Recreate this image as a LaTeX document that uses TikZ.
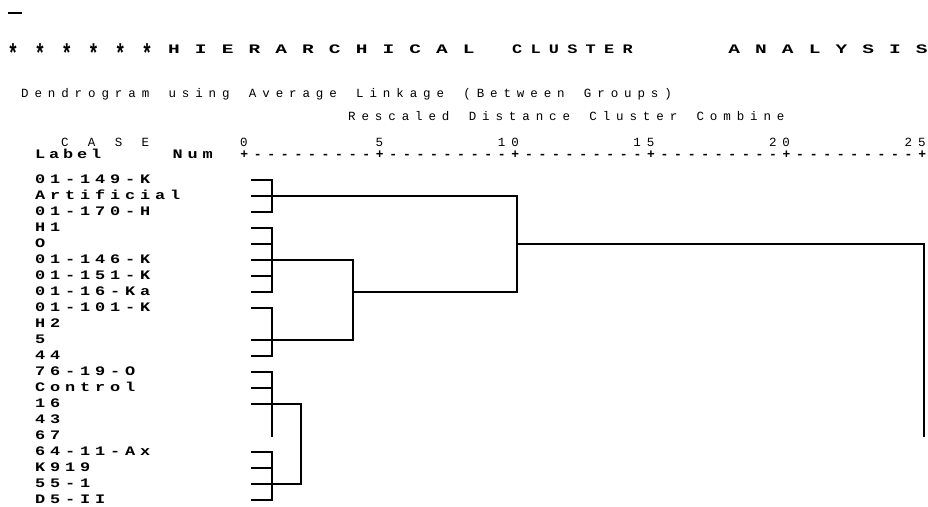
\documentclass[tikz,border=0pt]{standalone}
\usepackage{graphicx}
\usepackage{fontspec}
\setmainfont{Liberation Mono}
\ExplSyntaxOn
\NewDocumentCommand\mtext{O{1} m m}
  {
    \str_set:Nx \l_tmpa_str {#3}
    \str_map_inline:Nn \l_tmpa_str { \makebox[#2]{\scalebox{#1}[1]{##1}} }
  }
\ExplSyntaxOff
\tikzset{
  dline/.style={line width=1.8pt, line cap=rect},
  ttl/.style={anchor=base west, inner sep=0pt, font=\fontsize{13}{13}\selectfont\bfseries},
  star/.style={anchor=base west, inner sep=0pt, font=\fontsize{26}{26}\selectfont\bfseries},
  sub/.style={anchor=base west, inner sep=0pt, font=\fontsize{12.5}{12.5}\selectfont},
  lab/.style={anchor=base west, inner sep=0pt, font=\fontsize{13}{13}\selectfont\bfseries},
  num/.style={anchor=base east, inner sep=0pt, font=\fontsize{12.5}{12.5}\selectfont}
}
\begin{document}
\begin{tikzpicture}[x=1pt,y=-1pt]
\fill[white] (0,0) rectangle (928,506);
\useasboundingbox (0,0) rectangle (928,506);

% top dash
\coordinate (dash1) at (8,13);
\coordinate (dash2) at (22,13);
\draw[line width=2pt] (dash1) -- (dash2);

% title
\node[star] (stars) at (-0.4,62) {\mtext[0.7]{26.8pt}{******}};
\node[ttl] (title1) at (167.1,53) {\mtext[1.5]{13.4pt}{H I E R A R C H I C A L}};
\node[ttl] (title2) at (512.4,53) {\mtext[1.3]{9.2pt}{C L U S T E R}};
\node[ttl] (title3) at (727.3,53) {\mtext[1.5]{13.4pt}{A N A L Y S I S}};

% subtitles
\node[sub] (subt) at (18,97) {\mtext{13.4pt}{Dendrogram using Average Linkage (Between Groups)}};
\node[sub] (resc) at (345,120) {\mtext{13.4pt}{Rescaled Distance Cluster Combine}};

% scale header
\node[sub] (case) at (58,146) {\mtext{13.4pt}{C A S E}};
\node[num] (n0)  at (250.7,146) {\mtext{13.4pt}{0}};
\node[num] (n5)  at (386.3,146) {\mtext{13.4pt}{5}};
\node[num] (n10) at (521.9,146) {\mtext{13.4pt}{10}};
\node[num] (n15) at (657.5,146) {\mtext{13.4pt}{15}};
\node[num] (n20) at (793.1,146) {\mtext{13.4pt}{20}};
\node[num] (n25) at (928.7,146) {\mtext{13.4pt}{25}};

\node[lab] (lbl) at (33,158) {\mtext[1.3]{14pt}{Label}};
\node[lab] (nm)  at (170,158) {\mtext[1.3]{15pt}{Num}};
\node[lab] (axis) at (237.2,158) {\mtext{13.56pt}{+---------+---------+---------+---------+---------+}};

% case labels
\foreach \t [count=\i from 0] in {01-149-K,Artificial,01-170-H,H1,O,01-146-K,01-151-K,01-16-Ka,01-101-K,H2,5,44,76-19-O,Control,16,43,67,64-11-Ax,K919,55-1,D5-II}
  \node[lab] (L\i) at (32.5,183.5+16*\i) {\mtext[1.3]{15pt}{\t}};

% leaf stub starts
\foreach \i in {0,...,20}
  \coordinate (p\i) at (252,180+16*\i);

% junction points
\coordinate (a1) at (272,180); \coordinate (a2) at (272,212); \coordinate (am) at (272,196);
\coordinate (b1) at (272,228); \coordinate (b2) at (272,292); \coordinate (bm) at (272,260);
\coordinate (c1) at (272,308); \coordinate (c2) at (272,356); \coordinate (cm) at (272,340);
\coordinate (d1) at (272,372); \coordinate (d2) at (272,436); \coordinate (dm) at (272,404);
\coordinate (e1) at (272,452); \coordinate (e2) at (272,500); \coordinate (em) at (272,484);
\coordinate (xbc) at (353,292);
\coordinate (xabc) at (517,244);
\coordinate (xde) at (301,444);
\coordinate (xend) at (924,436);

% stubs
\foreach \i in {0,1,2,3,4,5,6,7,8,10,11,12,13,14,17,18,19,20}
  \draw[dline] (p\i) -- ++(20,0);

% verticals of first-level clusters
\draw[dline] (a1) -- (a2);
\draw[dline] (b1) -- (b2);
\draw[dline] (c1) -- (c2);
\draw[dline] (d1) -- (d2);
\draw[dline] (e1) -- (e2);

% joins
\draw[dline] (bm) -| (xbc) |- (cm);
\draw[dline] (am) -| (xabc) |- (xbc);
\draw[dline] (xabc) -| (xend);
\draw[dline] (dm) -| (xde) |- (em);
\end{tikzpicture}
\end{document}
